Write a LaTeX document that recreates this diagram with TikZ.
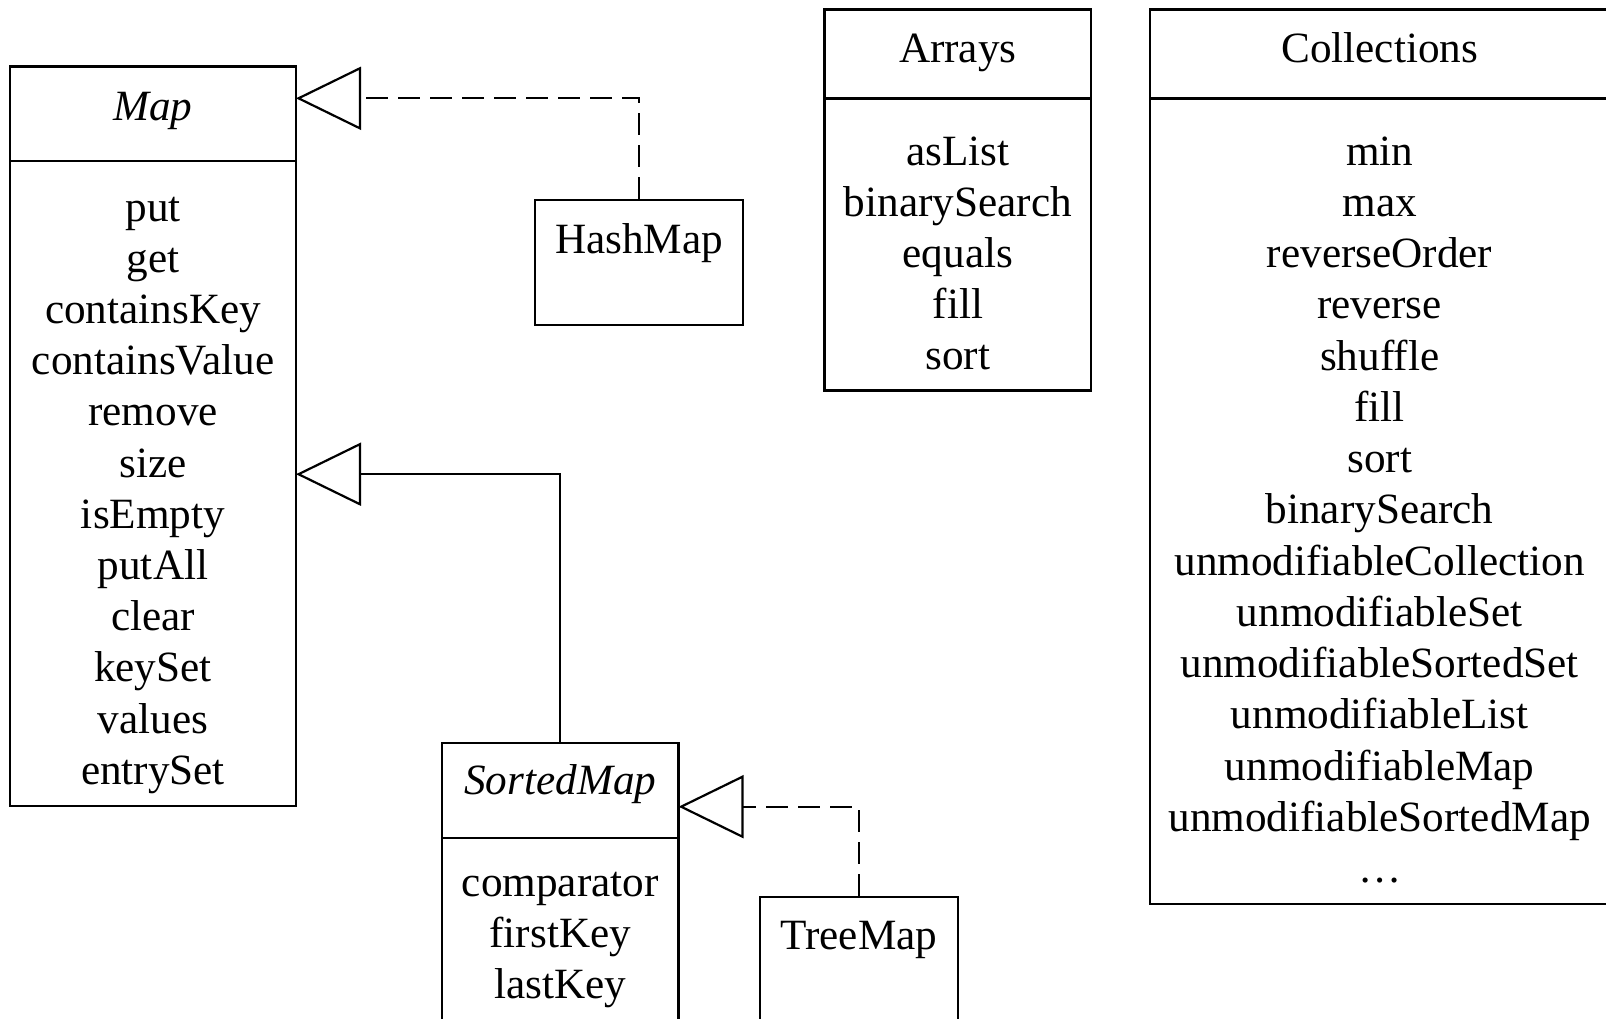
\documentclass[tikz,border=0pt]{standalone}
\usepackage{fontspec}
\setmainfont{Liberation Serif}
\usetikzlibrary{arrows.meta,fit}
\begin{document}
\begin{tikzpicture}[x=0.5pt,y=-0.5pt,
  box/.style={draw,line width=1.2pt,inner sep=0pt,rectangle},
  txt/.style={anchor=base,inner sep=0pt,font=\fontsize{21.6}{25}\selectfont},
  gen/.style={line width=1.1pt,-{Triangle[open,length=32.5pt,width=31.5pt,fill=white]}},
  real/.style={gen,dash pattern=on 11pt off 5pt}]
\clip (0,0) rectangle (1606,1018);
\fill[white] (0,0) rectangle (1606,1018);
% Map
\node[box,fit={(10,66.6)(296,161)}] (maph) {};
\node[box,fit={(10,161)(296,806)}] (mapb) {};
\node[txt] (mapt) at (153,120) {\textit{Map}};
\foreach \t [count=\i from 0] in {put,get,containsKey,containsValue,remove,size,isEmpty,putAll,clear,keySet,values,entrySet}
  \node[txt] (mapi\i) at (153,{221+51.2*\i}) {\t};
% HashMap
\node[box,fit={(535,200)(743,325)}] (hash) {};
\node[txt] (hasht) at (639,253) {HashMap};
% Arrays
\node[box,fit={(824.5,9.3)(1091,98.3)}] (arrh) {};
\node[box,fit={(824.5,98.3)(1091,390.5)}] (arrb) {};
\node[txt] (arrt) at (957.8,62) {Arrays};
\foreach \t [count=\i from 0] in {asList,binarySearch,equals,fill,sort}
  \node[txt] (arri\i) at (957.8,{165+51.2*\i}) {\t};
% Collections
\node[box,fit={(1150,9.3)(1609.5,98.3)}] (colh) {};
\node[box,fit={(1150,98.3)(1609.5,904)}] (colb) {};
\node[txt] (colt) at (1379.6,62) {Collections};
\foreach \t [count=\i from 0] in {min,max,reverseOrder,reverse,shuffle,fill,sort,binarySearch,unmodifiableCollection,unmodifiableSet,unmodifiableSortedSet,unmodifiableList,unmodifiableMap,unmodifiableSortedMap,…}
  \node[txt] (coli\i) at (1379.6,{165+51.25*\i}) {\t};
% SortedMap
\node[box,fit={(442,742.7)(678.6,838)}] (smh) {};
\node[box,fit={(442,838)(678.6,1040)}] (smb) {};
\node[txt] (smt) at (560.3,794) {\textit{SortedMap}};
\foreach \t [count=\i from 0] in {comparator,firstKey,lastKey}
  \node[txt] (smi\i) at (560.3,{896+51.2*\i}) {\t};
% TreeMap
\node[box,fit={(759.7,896.7)(958,1040)}] (tree) {};
\node[txt] (treet) at (858.9,949.3) {TreeMap};
% connectors
\coordinate (tipA) at (296,98.3);
\coordinate (tipB) at (296,474.2);
\coordinate (tipC) at (678.6,806.7);
\draw[real] (hash.north) |- (tipA);
\draw[gen] (smh.north) |- (tipB);
\draw[real] (tree.north) |- (tipC);
\end{tikzpicture}
\end{document}
